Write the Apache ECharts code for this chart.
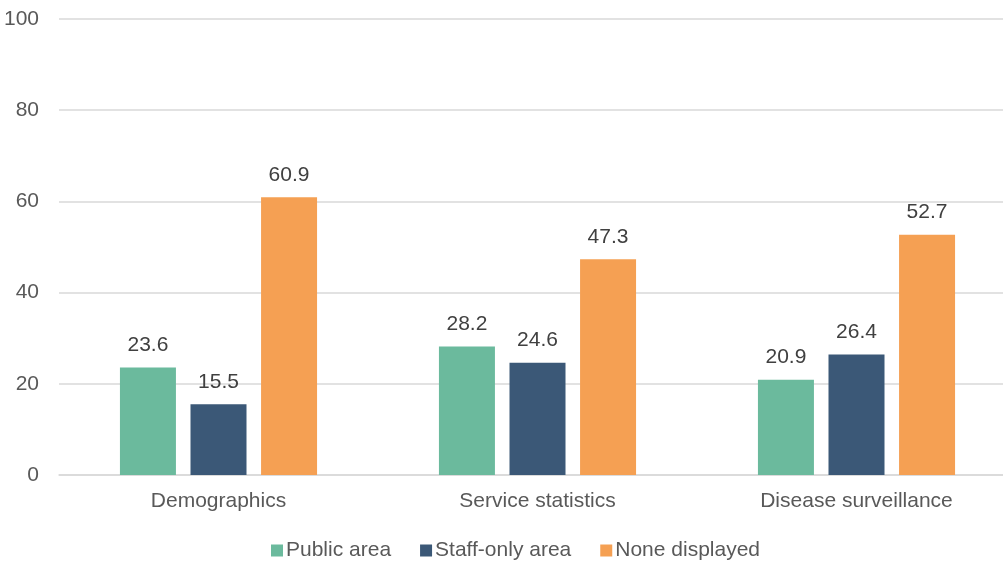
<!DOCTYPE html>
<html>
<head>
<meta charset="utf-8">
<script src="https://cdn.jsdelivr.net/npm/echarts@6/dist/echarts.min.js"></script>
<style>
  html, body { margin: 0; padding: 0; background: #ffffff; overflow: hidden; }
  /* the plot runs slightly past the right edge of the window */
  #chart { width: 1016px; height: 563px; }
</style>
</head>
<body>
<div id="chart"></div>
<script>
const categories = ['Demographics', 'Service statistics', 'Disease surveillance'];
const seriesNames = ['Public area', 'Staff-only area', 'None displayed'];
const publicArea = [23.6, 28.2, 20.9];
const staffOnlyArea = [15.5, 24.6, 26.4];
const noneDisplayed = [60.9, 47.3, 52.7];
const yTicks = [0, 20, 40, 60, 80, 100];

const colors = ['#6BBA9D', '#3B5877', '#F5A053'];
const font = '"Liberation Sans", Arial, sans-serif';

function barSeries(name, data, color) {
  return {
    name: name,
    type: 'bar',
    data: data,
    barWidth: 56,
    barGap: '26%',
    itemStyle: { color: color },
    label: {
      show: true,
      position: 'top',
      distance: 12,
      fontFamily: font,
      fontSize: 21,
      color: '#404040',
      formatter: p => p.value.toFixed(1)
    }
  };
}

const chart = echarts.init(document.getElementById('chart'), null, { renderer: 'canvas' });
chart.setOption({
  animation: false,
  backgroundColor: '#ffffff',
  color: colors,
  grid: { left: 59, right: 0, top: 19, height: 456, containLabel: false },
  legend: {
    data: seriesNames,
    top: 540,
    left: 271,
    padding: 0,
    itemWidth: 12,
    itemHeight: 12,
    itemGap: 29,
    icon: 'rect',
    textStyle: { fontFamily: font, fontSize: 21, color: '#595959', padding: [0, 0, 0, -2] }
  },
  xAxis: {
    type: 'category',
    data: categories,
    axisLine: { show: true, lineStyle: { color: '#d9d9d9', width: 1.5 } },
    axisTick: { show: false },
    axisLabel: { margin: 16, fontFamily: font, fontSize: 21, color: '#595959' }
  },
  yAxis: {
    type: 'value',
    min: yTicks[0],
    max: yTicks[yTicks.length - 1],
    interval: yTicks[1] - yTicks[0],
    axisLine: { show: false },
    axisTick: { show: false },
    splitLine: { lineStyle: { color: '#d9d9d9', width: 1.5 } },
    axisLabel: { margin: 20, fontFamily: font, fontSize: 21, color: '#595959' }
  },
  series: [
    barSeries(seriesNames[0], publicArea, colors[0]),
    barSeries(seriesNames[1], staffOnlyArea, colors[1]),
    barSeries(seriesNames[2], noneDisplayed, colors[2])
  ]
});
</script>
</body>
</html>
